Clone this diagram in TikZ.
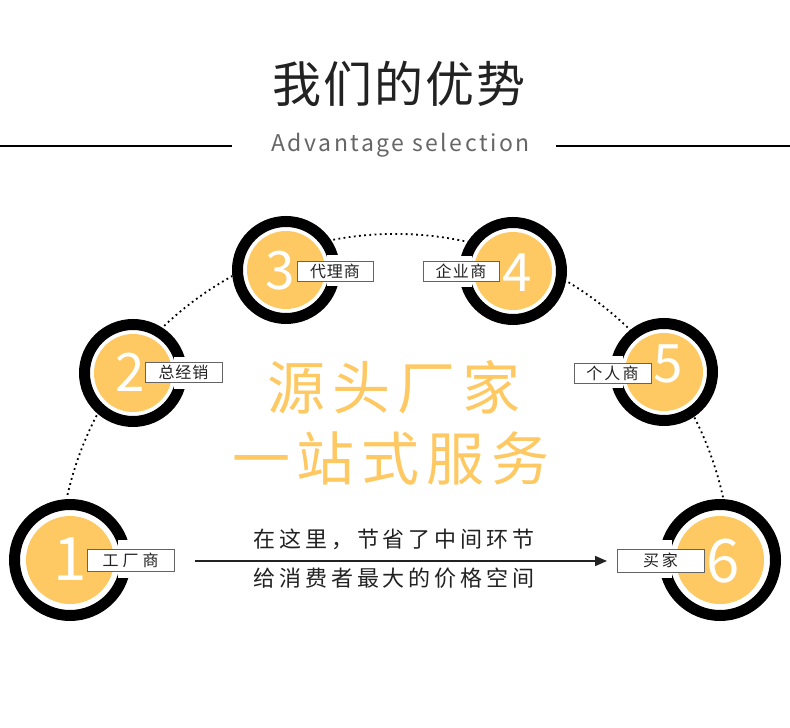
\documentclass[tikz,border=0pt]{standalone}
\usepackage{fontspec}
\setmainfont{Noto Sans CJK SC}
\usetikzlibrary{arrows.meta}
\definecolor{gold}{RGB}{254,201,99}
\definecolor{ink}{RGB}{34,34,34}
\definecolor{subgray}{RGB}{102,102,102}
\definecolor{boxgray}{RGB}{100,100,100}
\newcommand\ringdisk[4]{%
  \fill[white] (#1,#2) circle[radius=#3];
  \draw[line width=11pt] (#1,#2) circle[radius=#3-5.5];
  \fill[gold] (#1,#2) circle[radius=#4];
}
\newcommand\gapright[5]{% cx cy R up down
  \fill[white] ({#1+#3-13},{#2-#5}) rectangle ({#1+#3+1},{#2+#4});
}
\newcommand\gapleft[5]{%
  \fill[white] ({#1-#3-1},{#2-#5}) rectangle ({#1-#3+13},{#2+#4});
}
\begin{document}
\begin{tikzpicture}[x=1pt,y=1pt,
  lbl/.style={draw=boxgray, line width=0.8pt, fill=white, inner sep=0pt, text=ink},
  lblfont/.style={font=\fontsize{16}{16}\selectfont\addfontfeature{LetterSpace=#1}},
  digbig/.style={text=white, inner sep=0pt, anchor=base, font=\fontsize{60}{60}\selectfont},
  digsmall/.style={text=white, inner sep=0pt, anchor=base, font=\fontsize{53}{53}\selectfont},
  dots/.style={line width=1.8pt, dash pattern=on 1.8pt off 3.4pt},
  rule/.style={line width=1.6pt, draw=black},
  slogan/.style={text=gold, inner sep=0pt, font=\fontsize{58}{58}\selectfont\addfontfeature{LetterSpace=12}},
  note/.style={text=ink, inner sep=0pt, font=\fontsize{22}{22}\selectfont\addfontfeature{LetterSpace=18}}
]
\useasboundingbox (0,0) rectangle (790,728);
\fill[white] (0,0) rectangle (790,728);

% heading
\node[text=ink, inner sep=0pt, font=\fontsize{49}{49}\selectfont\addfontfeature{LetterSpace=4}] (title) at (399,644) {我们的优势};
\node[text=subgray, inner sep=0pt, anchor=base, font=\fontsize{23}{23}\selectfont\addfontfeature{LetterSpace=11}] (sub) at (400.5,576) {Advantage selection};
\coordinate (l1) at (0,582);
\coordinate (l2) at (232,582);
\coordinate (r1) at (556,582);
\coordinate (r2) at (790,582);
\draw[rule] (l1) -- (l2);
\draw[rule] (r1) -- (r2);

% dotted arc
\draw[dots] (395,158) ++(12.5:336) arc[start angle=12.5, end angle=167.5, radius=336];

% circle 1
\ringdisk{70}{168}{61}{44}
\gapright{70}{168}{61}{20}{18}
\node[digbig] (d1) at (70.5,147) {1};
\node[lbl, lblfont=25, minimum width=87pt, minimum height=22pt] (b1) at (130.5,168) {工厂商};

% circle 2
\ringdisk{133}{355}{54}{39}
\gapright{133}{355}{54}{16}{16}
\node[digsmall] (d2) at (130,336) {2};
\node[lbl, lblfont=6, minimum width=77pt, minimum height=20pt] (b2) at (183.5,355.5) {总经销};

% circle 3
\ringdisk{286}{458}{54}{39}
\gapright{286}{458}{54}{15}{16}
\node[digsmall] (d3) at (280,438) {3};
\node[lbl, lblfont=6, minimum width=76pt, minimum height=20pt] (b3) at (335,456.5) {代理商};

% circle 4
\ringdisk{513}{457}{54}{39}
\gapleft{513}{457}{54}{15}{16}
\node[digsmall] (d4) at (517,436) {4};
\node[lbl, lblfont=8, minimum width=76pt, minimum height=20pt] (b4) at (461,456.5) {企业商};

% circle 5
\ringdisk{664}{356}{54}{39}
\gapleft{664}{356}{54}{16}{16}
\node[digsmall] (d5) at (668,345) {5};
\node[lbl, lblfont=14, minimum width=77pt, minimum height=20pt] (b5) at (612.5,355) {个人商};

% circle 6
\ringdisk{720}{168}{61}{44}
\gapleft{720}{168}{61}{20}{18}
\node[digbig] (d6) at (723,145) {6};
\node[lbl, lblfont=18, minimum width=87pt, minimum height=23pt] (b6) at (660.5,167.5) {买家};

% slogan
\node[slogan] (s1) at (394,341) {源头厂家};
\node[slogan] (s2) at (391,270) {一站式服务};

% bottom note and arrow
\node[note] (n1) at (394,189) {在这里，节省了中间环节};
\node[note] (n2) at (394,150) {给消费者最大的价格空间};
\coordinate (a1) at (195,167);
\coordinate (a2) at (607,167);
\draw[line width=1.6pt, draw=ink, -{Triangle[length=12pt,width=10pt]}] (a1) -- (a2);
\end{tikzpicture}
\end{document}
